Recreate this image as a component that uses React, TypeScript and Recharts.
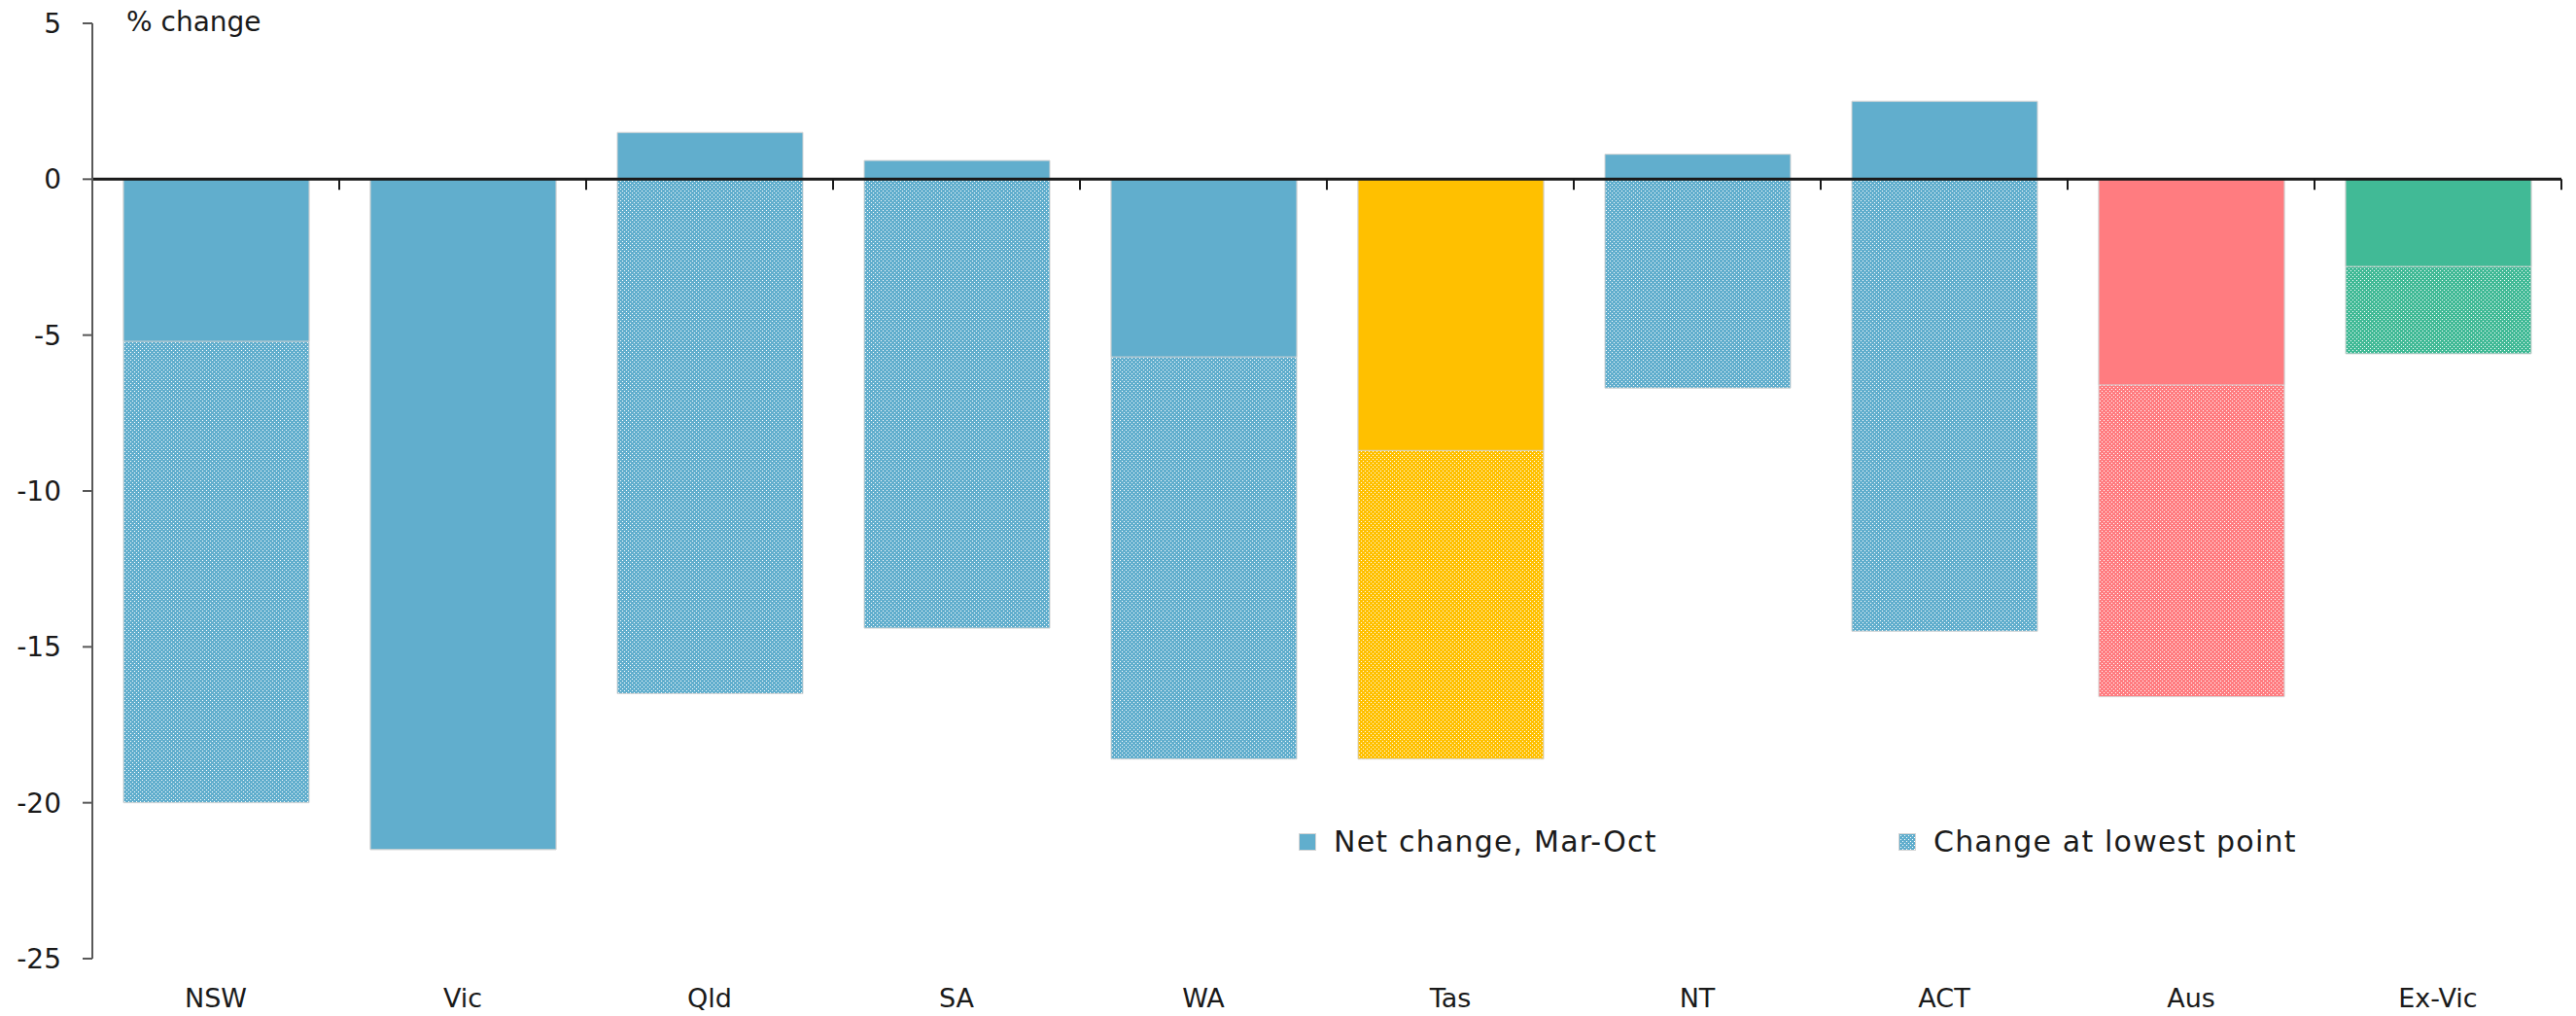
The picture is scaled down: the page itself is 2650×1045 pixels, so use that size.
import { BarChart, Bar, XAxis, YAxis, Cell, ReferenceLine, Label } from 'recharts';

const regions = ['NSW', 'Vic', 'Qld', 'SA', 'WA', 'Tas', 'NT', 'ACT', 'Aus', 'Ex-Vic'];
const netChange = [-5.2, -21.5, 1.5, 0.6, -5.7, -8.7, 0.8, 2.5, -6.6, -2.8];
const lowestPoint = [-20.0, -21.5, -16.5, -14.4, -18.6, -18.6, -6.7, -14.5, -16.6, -5.6];
const yTicks = [5, 0, -5, -10, -15, -20, -25];
const seriesNames = ['Net change, Mar-Oct', 'Change at lowest point'];

const FONT = '"DejaVu Sans", sans-serif';

const COLOURS: Record<string, string> = {
  blue: '#61AECD',
  yellow: '#FFC000',
  red: '#FF7C80',
  green: '#41BA96'
};

const colourKey = (region: string): string => {
  if (region === 'Tas') return 'yellow';
  if (region === 'Aus') return 'red';
  if (region === 'Ex-Vic') return 'green';
  return 'blue';
};

const data = regions.map((region, i) => ({
  region,
  net: netChange[i],
  lowest: lowestPoint[i]
}));

// small staggered white dashes over the series colour
const DotPattern = ({ id, colour }: { id: string; colour: string }) => (
  <pattern id={id} width={4} height={4} patternUnits="userSpaceOnUse">
    <rect width={4} height={4} fill={colour} />
    <rect x={0} y={0} width={1} height={1} fill="#fff" />
    <rect x={2} y={2} width={1} height={1} fill="#fff" />
  </pattern>
);

const CategoryTick = (props: any) => {
  const { x, y, payload } = props;
  return (
    <text x={x} y={y} dy="0.71em" textAnchor="middle" fontFamily={FONT} fontSize={27} fill="#1a1a1a">
      {payload.value}
    </text>
  );
};

const ValueTick = (props: any) => {
  const { x, y, payload } = props;
  return (
    <text x={x} y={y} dy="0.36em" textAnchor="end" fontFamily={FONT} fontSize={28} fill="#1a1a1a">
      {payload.value}
    </text>
  );
};

const UnitLabel = (props: any) => {
  const { viewBox } = props;
  return (
    <text x={viewBox.x + viewBox.width + 35} y={viewBox.y} dy="0.3em" fontFamily={FONT} fontSize={28} fill="#1a1a1a">
      % change
    </text>
  );
};

// zero line with category divider ticks hanging below it
const ZeroAxis = (props: any) => {
  const { x1, y1, x2, y2 } = props;
  const step = (x2 - x1) / regions.length;
  return (
    <g>
      <line x1={x1} y1={y1} x2={x2} y2={y2} stroke="#1a1a1a" strokeWidth={3} />
      {Array.from({ length: regions.length + 1 }, (_, i) => (
        <line key={i} x1={x1 + i * step} x2={x1 + i * step} y1={y1} y2={y1 + 11} stroke="#1a1a1a" strokeWidth={2} />
      ))}
    </g>
  );
};

const LegendKey = ({ fill }: { fill: string }) => (
  <svg width={18} height={18} style={{ marginRight: 18 }}>
    <defs>
      <DotPattern id="legend-dots" colour={COLOURS.blue} />
    </defs>
    <rect x={0.5} y={0.5} width={17} height={17} fill={fill} stroke="#d4d4d4" strokeWidth={1} />
  </svg>
);

export default function App() {
  return (
    <div style={{ position: 'absolute', left: 0, top: 0, width: 2650, height: 1045, background: '#fff' }}>
      <BarChart
        width={2650}
        height={1045}
        data={data}
        margin={{ top: 24, right: 15, bottom: 9, left: 0 }}
        barSize={191}
        barGap={-191}
      >
        <defs>
          {Object.keys(COLOURS).map((k) => (
            <DotPattern key={k} id={`dots-${k}`} colour={COLOURS[k]} />
          ))}
        </defs>
        <XAxis
          dataKey="region"
          height={50}
          axisLine={false}
          tickLine={false}
          tickSize={6}
          tickMargin={25}
          interval={0}
          tick={<CategoryTick />}
        />
        <YAxis
          type="number"
          width={95}
          domain={[-25, 5]}
          ticks={yTicks}
          allowDataOverflow
          axisLine={{ stroke: '#595959', strokeWidth: 2 }}
          tickLine={{ stroke: '#595959', strokeWidth: 2 }}
          tickSize={10}
          tickMargin={22}
          tick={<ValueTick />}
        >
          <Label content={<UnitLabel />} />
        </YAxis>
        <Bar dataKey="lowest" name={seriesNames[1]} isAnimationActive={false} stroke="#d4d4d4" strokeWidth={1}>
          {data.map((d) => (
            <Cell key={d.region} fill={`url(#dots-${colourKey(d.region)})`} />
          ))}
        </Bar>
        <Bar dataKey="net" name={seriesNames[0]} isAnimationActive={false} stroke="#d4d4d4" strokeWidth={1}>
          {data.map((d) => (
            <Cell key={d.region} fill={COLOURS[colourKey(d.region)]} />
          ))}
        </Bar>
        <ReferenceLine y={0} shape={<ZeroAxis />} />
      </BarChart>

      <div
        style={{
          position: 'absolute',
          left: 1336,
          top: 848,
          display: 'flex',
          alignItems: 'center',
          fontFamily: FONT,
          fontSize: 30,
          color: '#1a1a1a',
          whiteSpace: 'nowrap'
        }}
      >
        <div style={{ display: 'flex', alignItems: 'center', width: 617 }}>
          <LegendKey fill={COLOURS.blue} />
          <span style={{ letterSpacing: 1.2 }}>{seriesNames[0]}</span>
        </div>
        <div style={{ display: 'flex', alignItems: 'center' }}>
          <LegendKey fill="url(#legend-dots)" />
          <span style={{ letterSpacing: 1.2 }}>{seriesNames[1]}</span>
        </div>
      </div>
    </div>
  );
}
